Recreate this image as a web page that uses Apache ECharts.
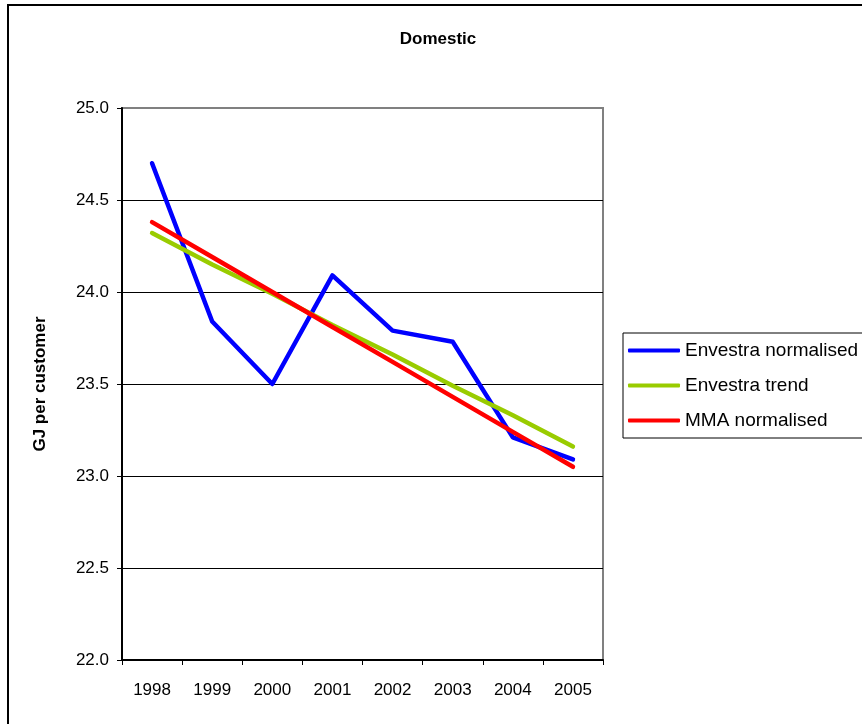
<!DOCTYPE html>
<html>
<head>
<meta charset="utf-8">
<script src="https://cdn.jsdelivr.net/npm/echarts@6/dist/echarts.min.js"></script>
<style>
  html, body { margin: 0; padding: 0; background: #fff; }
  #chart { width: 862px; height: 724px; }
</style>
</head>
<body>
<div id="chart"></div>
<script>
// Domestic gas usage, GJ per customer
const years = ['1998', '1999', '2000', '2001', '2002', '2003', '2004', '2005'];
const envestraNormalised = [24.70, 23.84, 23.50, 24.09, 23.79, 23.73, 23.21, 23.09];
const envestraTrend = [24.32, 24.15, 23.99, 23.82, 23.66, 23.49, 23.33, 23.16];
const mmaNormalised = [24.38, 24.19, 24.00, 23.81, 23.62, 23.43, 23.24, 23.05];

const FONT = '"Liberation Sans", Arial, sans-serif';

const chart = echarts.init(document.getElementById('chart'), null, { renderer: 'canvas' });

function lineSeries(name, data, color) {
  return {
    name: name,
    type: 'line',
    data: data,
    symbol: 'none',
    smooth: false,
    lineStyle: { color: color, width: 4.5, cap: 'round', join: 'round' },
    itemStyle: { color: color },
    z: 3
  };
}

chart.setOption({
  animation: false,
  backgroundColor: '#ffffff',
  textStyle: { fontFamily: FONT },
  title: {
    text: 'Domestic',
    left: 433,
    textAlign: 'center',
    top: 26,
    textStyle: { fontFamily: FONT, fontSize: 17, fontWeight: 'bold', color: '#000' }
  },
  graphic: [{
    type: 'rect',
    shape: { x: 8, y: 5, width: 900, height: 800 },
    style: { fill: 'none', stroke: '#000', lineWidth: 2 },
    silent: true,
    z: -1
  }],
  legend: {
    orient: 'vertical',
    left: 623,
    top: 333,
    padding: [8, 12, 8, 5],
    itemGap: 16,
    itemWidth: 52,
    itemHeight: 4,
    icon: 'roundRect',
    borderColor: '#000',
    borderWidth: 1,
    backgroundColor: '#fff',
    textStyle: { fontFamily: FONT, fontSize: 19, color: '#000', padding: [0, 0, 0, 0] },
    data: ['Envestra normalised', 'Envestra trend', 'MMA normalised']
  },
  grid: {
    left: 122,
    right: 259,
    top: 108,
    bottom: 64,
    show: true,
    borderColor: '#808080',
    borderWidth: 2,
    containLabel: false
  },
  xAxis: {
    type: 'category',
    data: years,
    boundaryGap: true,
    axisLine: { show: true, lineStyle: { color: '#000', width: 2 } },
    axisTick: { show: true, inside: false, length: 5, alignWithLabel: false, lineStyle: { color: '#000', width: 1 } },
    axisLabel: { margin: 22, fontFamily: FONT, fontSize: 17, color: '#000' },
    splitLine: { show: false }
  },
  yAxis: {
    type: 'value',
    min: 22.0,
    max: 25.0,
    interval: 0.5,
    name: 'GJ per customer',
    nameLocation: 'middle',
    nameGap: 73,
    nameRotate: 90,
    nameTextStyle: { fontFamily: FONT, fontSize: 17, fontWeight: 'bold', color: '#000' },
    axisLine: { show: true, lineStyle: { color: '#000', width: 2 } },
    axisTick: { show: true, inside: false, length: 5, lineStyle: { color: '#000', width: 1 } },
    axisLabel: {
      margin: 13,
      fontFamily: FONT,
      fontSize: 17,
      color: '#000',
      formatter: function (v) { return v.toFixed(1); }
    },
    splitLine: { show: true, showMaxLine: false, lineStyle: { color: '#000', width: 1 } }
  },
  series: [
    lineSeries('Envestra normalised', envestraNormalised, '#0000ff'),
    lineSeries('Envestra trend', envestraTrend, '#99cc00'),
    lineSeries('MMA normalised', mmaNormalised, '#ff0000')
  ]
});
</script>
</body>
</html>
